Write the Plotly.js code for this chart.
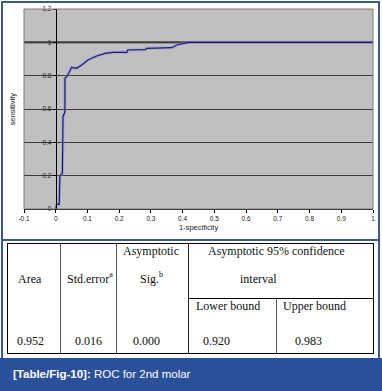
<!DOCTYPE html>
<html>
<head>
<meta charset="utf-8">
<script src="https://cdn.plot.ly/plotly-3.0.1.min.js"></script>
<style>
  html, body { margin:0; padding:0; background:#fff; }
  #wrap { position:relative; width:382px; height:391px; overflow:hidden; }
  #chart { position:absolute; left:0; top:0; width:382px; height:391px; }
  .ln { position:absolute; }
  .tx { position:absolute; font-family:'Liberation Serif','Times New Roman',serif; font-size:12px; line-height:14px; color:#111; white-space:nowrap; }
  .tx sup { font-size:8px; line-height:0; position:relative; top:-1px; vertical-align:super; }
  #banner { position:absolute; left:0; top:358px; width:382px; height:33px; background:#2a5099; }
  #banner span.cap { position:absolute; left:13px; top:9px; font-family:'Liberation Sans',Arial,sans-serif; font-size:11.5px; line-height:15px; color:#fff; white-space:nowrap; }
</style>
</head>
<body>
<div id="wrap">
  <div id="chart"></div>
</div>
<script>
// ---- ROC curve data ----
const fpr = [0, 0.003, 0.011, 0.011, 0.013, 0.021, 0.023, 0.029, 0.029, 0.037, 0.045, 0.050, 0.066, 0.082, 0.103, 0.129, 0.156, 0.182, 0.224, 0.227, 0.282, 0.287, 0.366, 0.382, 0.403, 0.418, 1.0];
const tpr = [0, 0.028, 0.028, 0.164, 0.200, 0.214, 0.554, 0.584, 0.784, 0.800, 0.838, 0.850, 0.844, 0.864, 0.896, 0.918, 0.934, 0.940, 0.940, 0.954, 0.956, 0.964, 0.968, 0.984, 0.994, 1.0, 1.0];

const xTickVals = [-0.1, 0, 0.1, 0.2, 0.3, 0.4, 0.5, 0.6, 0.7, 0.8, 0.9, 1];
const xTickText = ['-0.1', '0', '0.1', '0.2', '0.3', '0.4', '0.5', '0.6', '0.7', '0.8', '0.9', '1'];
const yTickVals = [0, 0.2, 0.4, 0.6, 0.8, 1, 1.2];
const yTickText = ['0', '0.2', '0.4', '0.6', '0.8', '1', '1.2'];

const xTitle = '1-specificity';
const yTitle = 'sensitivity';

// ---- table data ----
const colHeaders = ['Area', 'Std.error', 'Asymptotic', 'Sig.'];
const colHeaderSup = ['', 'a', '', 'b'];
const ciHeaderLines = ['Asymptotic 95% confidence', 'interval'];
const ciSubHeaders = ['Lower bound', 'Upper bound'];
const statValues = ['0.952', '0.016', '0.000', '0.920', '0.983'];

const captionLabel = '[Table/Fig-10]:';
const captionText = ' ROC for 2nd molar';

// ---- chart ----
const xRange = [-0.1, 1];
const tickFont = {family:'Liberation Sans, Arial, sans-serif', size:6.5, color:'#222'};
const titleFont = {family:'Liberation Sans, Arial, sans-serif', size:7.5, color:'#222'};

const traces = [
  {x:fpr, y:tpr, type:'scatter', mode:'lines', line:{color:'rgba(150,150,225,0.55)', width:3.2}, hoverinfo:'skip'},
  {x:fpr, y:tpr, type:'scatter', mode:'lines', line:{color:'#1b1b6b', width:1.2}}
];

const layout = {
  width:382, height:391,
  margin:{l:24, r:9, t:9, b:182, pad:0},
  paper_bgcolor:'rgba(255,255,255,0)',
  plot_bgcolor:'#c0c0c0',
  showlegend:false,
  xaxis:{
    range:xRange, tickvals:xTickVals, ticktext:xTickText,
    showgrid:false, zeroline:false, showline:true, linecolor:'#000', linewidth:1,
    ticks:'outside', ticklen:3, tickcolor:'#000', tickwidth:1,
    tickfont:tickFont, fixedrange:true
  },
  yaxis:{
    range:[0, 1.2], anchor:'free', position:(0 - xRange[0]) / (xRange[1] - xRange[0]),
    tickvals:yTickVals, ticktext:yTickText,
    showgrid:true, gridcolor:'#3a3a3a', gridwidth:1, zeroline:false,
    showline:true, linecolor:'#000', linewidth:1,
    ticks:'outside', ticklen:3, tickcolor:'#000', tickwidth:1,
    tickfont:tickFont, fixedrange:true
  },
  shapes:[
    {type:'rect', xref:'paper', yref:'paper', x0:0, x1:1, y0:0, y1:1, line:{color:'#7a7a7a', width:1}, layer:'above'},
    {type:'line', xref:'paper', yref:'y', x0:0, x1:1, y0:1, y1:1, line:{color:'#000', width:1.6}, layer:'between'}
  ],
  annotations:[
    {text:xTitle, xref:'paper', yref:'paper', x:0.5, y:-0.09, xanchor:'center', yanchor:'middle', showarrow:false, font:titleFont},
    {text:yTitle, xref:'paper', yref:'paper', x:-0.033, y:0.5, xanchor:'center', yanchor:'middle', textangle:-90, showarrow:false, font:titleFont}
  ]
};

Plotly.newPlot('chart', traces, layout, {displayModeBar:false, staticPlot:true});

// ---- frame, table, caption (HTML overlay) ----
const wrap = document.getElementById('wrap');
function line(l, t, w, h, c) {
  const d = document.createElement('div');
  d.className = 'ln';
  d.style.left = l + 'px'; d.style.top = t + 'px';
  d.style.width = w + 'px'; d.style.height = h + 'px';
  d.style.background = c;
  wrap.appendChild(d);
}
function text(str, sup, left, cy) {
  const d = document.createElement('div');
  d.className = 'tx';
  d.textContent = str;
  if (sup) { const s = document.createElement('sup'); s.textContent = sup; d.appendChild(s); }
  d.style.left = left + 'px';
  d.style.top = (cy - 7) + 'px';
  wrap.appendChild(d);
}

const frameC = '#3b5a8a';
// outer frame
line(1, 1, 2, 357, frameC);
line(378, 1, 2, 357, frameC);
line(1, 1, 379, 2, frameC);
line(1, 239, 379, 2, frameC);

// table rules
const colX = [7, 60, 116, 188, 276, 373];
const tTop = 243, tMid = 298, tBot = 353;
line(colX[0], tTop, colX[5] - colX[0] + 1, 1, '#000');
line(colX[0], tBot, colX[5] - colX[0] + 1, 1, '#000');
line(colX[3], tMid, colX[5] - colX[3] + 1, 1, '#000');
line(colX[0], tTop, 1, tBot - tTop + 1, '#000');
line(colX[5], tTop, 1, tBot - tTop + 1, '#000');
line(colX[1], tTop, 1, tBot - tTop, '#555');
line(colX[2], tTop, 1, tBot - tTop, '#555');
line(colX[3], tTop, 1, tBot - tTop, '#222');
line(colX[4], tMid, 1, tBot - tMid, '#555');

// header texts
text(colHeaders[0], colHeaderSup[0], 18, 279);
text(colHeaders[1], colHeaderSup[1], 67, 279);
text(colHeaders[2], colHeaderSup[2], 123, 251);
text(colHeaders[3], colHeaderSup[3], 140, 279);
text(ciHeaderLines[0], '', 208, 251);
text(ciHeaderLines[1], '', 240, 279);
text(ciSubHeaders[0], '', 196, 306);
text(ciSubHeaders[1], '', 283, 306);
// values
const valLeft = [17, 75, 133, 203, 295];
statValues.forEach((v, i) => text(v, '', valLeft[i], 341));

// caption banner
const b = document.createElement('div');
b.id = 'banner';
const cap = document.createElement('span');
cap.className = 'cap';
const bold = document.createElement('b');
bold.textContent = captionLabel;
cap.appendChild(bold);
cap.appendChild(document.createTextNode(captionText));
b.appendChild(cap);
wrap.appendChild(b);
</script>
</body>
</html>
